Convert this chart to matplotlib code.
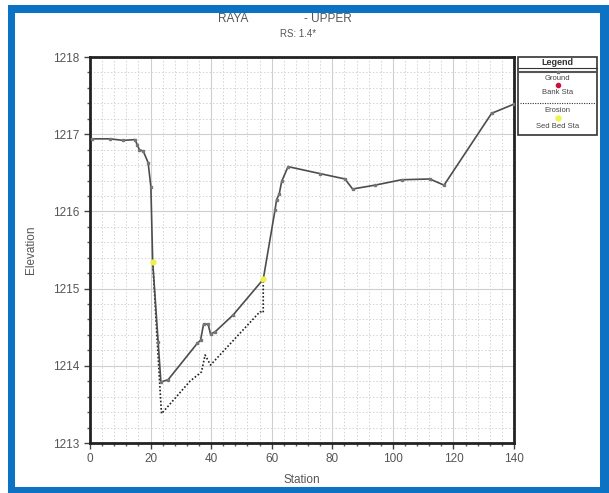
import matplotlib
matplotlib.use("Agg")
import matplotlib.pyplot as plt
from matplotlib.patches import Rectangle
from matplotlib.lines import Line2D
from matplotlib.ticker import MultipleLocator

plt.rcParams['font.family'] = ['Liberation Sans', 'DejaVu Sans']

# Data
ground_sta = [0.5, 6.6, 10.9, 14.9, 15.6, 16.3, 17.6, 19.2, 20.1, 20.7, 22.5, 23.4,
              25.8, 35.4, 36.5, 37.5, 39.0, 39.8, 41.3, 47.3, 57.2, 61.1, 61.6, 62.5,
              63.3, 65.4, 75.9, 84.2, 86.7, 94.1, 102.9, 112.2, 116.9, 132.6, 140.0]
ground_elev = [1216.94, 1216.94, 1216.92, 1216.93, 1216.86, 1216.80, 1216.78, 1216.63,
               1216.32, 1215.35, 1214.31, 1213.79, 1213.82, 1214.29, 1214.33, 1214.54,
               1214.54, 1214.41, 1214.44, 1214.66, 1215.12, 1216.02, 1216.15, 1216.23,
               1216.39, 1216.58, 1216.49, 1216.42, 1216.29, 1216.34, 1216.41, 1216.42,
               1216.34, 1217.27, 1217.39]
erosion_sta = [20.7, 21.8, 23.6, 24.3, 33.0, 36.8, 38.0, 39.8, 56.1, 57.2, 57.2]
erosion_elev = [1215.35, 1214.59, 1213.38, 1213.41, 1213.80, 1213.92, 1214.14,
                1214.01, 1214.70, 1214.69, 1215.12]
sed_bed_sta = [20.7, 57.2]
sed_bed_elev = [1215.35, 1215.12]

title_left = "RAYA"
title_right = "- UPPER"
title_sub = "RS: 1.4*"

W, H = 609, 493
fig = plt.figure(figsize=(W / 100, H / 100), dpi=100)
fig.patch.set_facecolor('white')

def fx(px):
    return px / W

def fy(py):
    return 1 - py / H

# Blue frame
fig.patches.append(Rectangle((fx(8), fy(493)), fx(609) - fx(8), fy(5) - fy(493),
                             transform=fig.transFigure, facecolor='#0B72C4',
                             edgecolor='none', zorder=-10))
fig.patches.append(Rectangle((fx(15), fy(487)), fx(600) - fx(15), fy(13) - fy(487),
                             transform=fig.transFigure, facecolor='white',
                             edgecolor='none', zorder=-9))

ax = fig.add_axes([fx(90), fy(443), fx(514) - fx(90), fy(57) - fy(443)])
ax.set_zorder(5)
ax.set_facecolor('white')
ax.set_xlim(0, 140)
ax.set_ylim(1213, 1218)

ax.xaxis.set_major_locator(MultipleLocator(20))
ax.xaxis.set_minor_locator(MultipleLocator(4))
ax.yaxis.set_major_locator(MultipleLocator(1))
ax.yaxis.set_minor_locator(MultipleLocator(0.2))
ax.grid(which='major', color='#cfcfcf', linewidth=0.8, linestyle='-')
ax.grid(which='minor', color='#d4d4d4', linewidth=0.7, linestyle=(0, (1.5, 2)))
ax.set_axisbelow(True)

for s in ax.spines.values():
    s.set_linewidth(2)
    s.set_color('#222222')

ax.tick_params(which='major', direction='out', length=4, width=1, colors='#444444',
               labelsize=8.5, labelcolor='#555555')
ax.tick_params(which='minor', direction='out', length=2.5, width=1, colors='#555555')

ax.plot(erosion_sta, erosion_elev, color='#222222', linestyle=(0, (1, 1.2)),
        linewidth=1.2, zorder=3)
ax.plot(ground_sta, ground_elev, color='#4d4d4d', linewidth=1.2, marker='s',
        markersize=2, markerfacecolor='#777777', markeredgecolor='#777777', zorder=4)
ax.plot(sed_bed_sta, sed_bed_elev, linestyle='none', marker='o', markersize=3.5,
        color='#eef24a', zorder=5)

ax.set_xlabel('Station', fontsize=8.5, color='#555555', labelpad=6)
ax.set_ylabel('Elevation', fontsize=8.5, color='#555555', labelpad=12)

fig.text(fx(218), fy(19), title_left, ha='left', va='center', fontsize=8.5, color='#555555')
fig.text(fx(304), fy(19), title_right, ha='left', va='center', fontsize=8.5, color='#555555')
fig.text(fx(298), fy(34), title_sub, ha='center', va='center', fontsize=7, color='#555555')

# Legend box
lx0, lx1, ly0, ly1 = 518, 597, 57, 135
fig.patches.append(Rectangle((fx(lx0), fy(ly1)), fx(lx1) - fx(lx0), fy(ly0) - fy(ly1),
                             transform=fig.transFigure, facecolor='white',
                             edgecolor='#333333', linewidth=1.2, zorder=2))
cx = fx((lx0 + lx1) / 2)
fig.text(cx, fy(62.5), 'Legend', ha='center', va='center', fontsize=6.5,
         fontweight='bold', color='#333333', zorder=10)

def fline(xs, ys, **kw):
    ln = Line2D(xs, ys, transform=fig.transFigure, zorder=10, **kw)
    fig.add_artist(ln)

fline([fx(lx0), fx(lx1)], [fy(68), fy(68)], color='#333333', linewidth=0.8)
fline([fx(lx0 + 2), fx(lx1 - 2)], [fy(71.5), fy(71.5)], color='#555555', linewidth=1.5)
fline([cx], [fy(71.5)], marker='s', markersize=2, color='#777777', linestyle='none')
fig.text(cx, fy(79), 'Ground', ha='center', va='center', fontsize=5.5, color='#444444', zorder=10)
fline([cx], [fy(85)], marker='o', markersize=3, color='#d0103a', linestyle='none')
fig.text(cx, fy(92.5), 'Bank Sta', ha='center', va='center', fontsize=5.5, color='#444444', zorder=10)
fline([fx(lx0 + 2), fx(lx1 - 2)], [fy(102.5), fy(102.5)], color='#333333', linewidth=0.8,
      linestyle=(0, (1, 1.2)))
fig.text(cx, fy(110), 'Erosion', ha='center', va='center', fontsize=5.5, color='#444444', zorder=10)
fline([cx], [fy(118)], marker='o', markersize=3.5, color='#eef24a', linestyle='none')
fig.text(cx, fy(127), 'Sed Bed Sta', ha='center', va='center', fontsize=5.5, color='#444444', zorder=10)

fig.savefig('out.png', dpi=100)
